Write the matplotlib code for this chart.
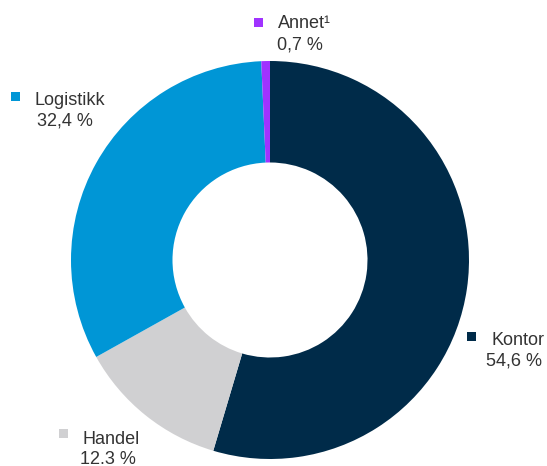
import matplotlib
matplotlib.use("Agg")
import matplotlib.pyplot as plt
from matplotlib.patches import Rectangle

# Data (clockwise from top)
categories = ["Kontor", "Handel", "Logistikk", "Annet¹"]
values = [54.6, 12.3, 32.4, 0.7]
value_labels = ["54,6 %", "12.3 %", "32,4 %", "0,7 %"]
colors = ["#002b49", "#d0d0d2", "#0096d6", "#a033ff"]

# Label layout in pixel coordinates (name_x, name_baseline_y, value_center_x, value_baseline_y, square_x, square_y)
layout = [
    (492, 345, 514, 366, 467, 332),
    (82, 444, 108, 464, 59, 429),
    (35, 105, 65, 125, 11, 92),
    (278, 28, 300, 49, 254, 18),
]

W, H = 547, 466
fig = plt.figure(figsize=(W / 100, H / 100), dpi=100)
cx, cy, R = 270, 260, 199
ax = fig.add_axes([(cx - R) / W, 1 - (cy + R) / H, 2 * R / W, 2 * R / H])
ax.pie(values, colors=colors, startangle=90, counterclock=False, radius=1.0,
       wedgeprops=dict(width=0.51, linewidth=0))
ax.set_xlim(-1, 1)
ax.set_ylim(-1, 1)
ax.axis("off")

txt_color = "#333333"
fs = 13
for cat, vl, col, (nx, ny, vx, vy, sx, sy) in zip(categories, value_labels, colors, layout):
    fig.text(nx / W, 1 - ny / H, cat, fontsize=fs, family="Liberation Sans",
             color=txt_color, ha="left", va="baseline")
    fig.text(vx / W, 1 - vy / H, vl, fontsize=fs, family="Liberation Sans",
             color=txt_color, ha="center", va="baseline")
    fig.add_artist(Rectangle((sx / W, 1 - (sy + 9) / H), 9 / W, 9 / H,
                             transform=fig.transFigure, facecolor=col, edgecolor="none"))

fig.savefig("out.png", dpi=100)
